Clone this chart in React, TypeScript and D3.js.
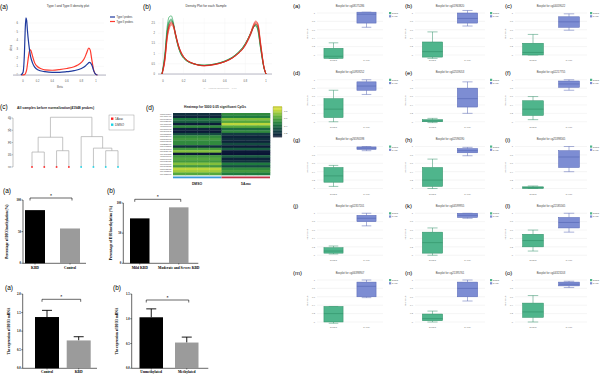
import React from "react";
import * as d3 from "d3";

const SANS = "Liberation Sans, Arial, sans-serif";
const SERIF = "Liberation Serif, Times New Roman, serif";

// ===== Top (a): Type I / Type II density =====
const typeIBeta = [-0.03, 0, 0.02, 0.03, 0.04, 0.05, 0.06, 0.08, 0.1, 0.13, 0.16, 0.2, 0.3, 0.4, 0.5, 0.6, 0.7, 0.8, 0.85, 0.88, 0.91, 0.93, 0.95, 0.97, 1.0, 1.02];
const typeIDensity = [0, 0.3, 2.6, 5.2, 6.6, 6.3, 5.2, 3.5, 2.3, 1.4, 0.9, 0.6, 0.38, 0.3, 0.3, 0.38, 0.5, 0.75, 1.0, 1.25, 1.45, 1.35, 1.0, 0.45, 0.05, 0];
const typeIIBeta = [-0.02, 0.02, 0.05, 0.07, 0.09, 0.1, 0.11, 0.13, 0.16, 0.2, 0.25, 0.3, 0.4, 0.5, 0.6, 0.7, 0.75, 0.8, 0.84, 0.87, 0.9, 0.92, 0.94, 0.97, 1.0, 1.02];
const typeIIDensity = [0, 0.05, 0.6, 1.8, 2.8, 2.9, 2.8, 2.2, 1.4, 0.95, 0.72, 0.6, 0.55, 0.62, 0.75, 0.95, 1.15, 1.45, 1.9, 2.5, 3.1, 2.9, 1.9, 0.5, 0.05, 0];
const densATicksX = [0, 0.2, 0.4, 0.6, 0.8, 1];
const densATicksY = [0, 1, 2, 3, 4, 5, 6];

// ===== Top (b): density for each sample =====
const sampleBeta = [-0.01, 0.02, 0.04, 0.06, 0.08, 0.1, 0.12, 0.15, 0.2, 0.3, 0.4, 0.5, 0.6, 0.7, 0.8, 0.85, 0.88, 0.9, 0.92, 0.95, 0.98, 1.0];
const sampleNames = ["DMSO_1", "DMSO_2", "DMSO_3", "DMSO_4", "5Azac_1", "5Azac_2", "5Azac_3", "5Azac_4"];
const sampleColors = ["#1b9e4b", "#2ca25f", "#41ab5d", "#238b45", "#e31a1c", "#fc4e2a", "#ef3b2c", "#cb181d"];
const sampleDensity = [
  [0.0, 1.1, 2.3, 2.8, 2.85, 2.55, 2.0, 1.35, 0.8, 0.5, 0.42, 0.48, 0.62, 0.9, 1.45, 1.95, 2.3, 2.45, 2.3, 1.3, 0.35, 0.0],
  [0.0, 1.0, 2.1, 2.6, 2.7, 2.45, 1.95, 1.3, 0.78, 0.49, 0.42, 0.48, 0.63, 0.92, 1.5, 2.0, 2.35, 2.4, 2.2, 1.2, 0.3, 0.0],
  [0.0, 0.9, 2.0, 2.5, 2.6, 2.4, 1.9, 1.3, 0.77, 0.49, 0.43, 0.49, 0.63, 0.92, 1.48, 1.98, 2.3, 2.35, 2.15, 1.15, 0.3, 0.0],
  [0.0, 0.95, 2.05, 2.55, 2.65, 2.45, 1.95, 1.32, 0.79, 0.5, 0.43, 0.49, 0.64, 0.93, 1.5, 2.0, 2.32, 2.38, 2.2, 1.2, 0.3, 0.0],
  [0.0, 0.8, 1.8, 2.35, 2.5, 2.4, 2.0, 1.4, 0.85, 0.5, 0.4, 0.46, 0.6, 0.88, 1.45, 2.0, 2.4, 2.55, 2.45, 1.4, 0.35, 0.0],
  [0.0, 0.75, 1.75, 2.3, 2.45, 2.35, 1.95, 1.38, 0.84, 0.5, 0.4, 0.46, 0.6, 0.88, 1.42, 1.95, 2.35, 2.5, 2.4, 1.35, 0.33, 0.0],
  [0.0, 0.7, 1.7, 2.2, 2.4, 2.3, 1.92, 1.36, 0.83, 0.5, 0.41, 0.47, 0.61, 0.9, 1.45, 2.0, 2.45, 2.6, 2.5, 1.45, 0.36, 0.0],
  [0.0, 0.85, 1.9, 2.4, 2.55, 2.42, 2.02, 1.42, 0.86, 0.51, 0.41, 0.47, 0.6, 0.87, 1.4, 1.9, 2.3, 2.45, 2.35, 1.3, 0.32, 0.0],
];
const densBTicksX = [0, 0.2, 0.4, 0.6, 0.8, 1];
const densBTicksY = [0, 0.5, 1, 1.5, 2, 2.5];

// ===== (c) dendrogram =====
const dendLeaves = ["s1", "s2", "s3", "s4", "s5", "s6", "s7", "s8"];
const dendLeafGroup = ["5Azac", "5Azac", "5Azac", "5Azac", "DMSO", "DMSO", "DMSO", "DMSO"];
const dendMergeId = ["n1", "n2", "n3", "n4", "n5", "n6", "n7"];
const dendMergeLeft = ["s1", "s3", "s7", "s6", "n1", "s5", "n5"];
const dendMergeRight = ["s2", "s4", "s8", "n3", "n2", "n4", "n6"];
const dendMergeHeight = [12.2, 13.3, 13.3, 15.4, 24.3, 24.8, 40.6];
const dendTicks = [0, 10, 20, 30, 40];

// ===== (d) heatmap =====
const heatRowIds = ["cg26071204", "cg14809401", "cg09902663", "cg16185051", "cg04836959", "cg11363069", "cg16831765", "cg13067848", "cg06208521", "cg21720034", "cg26515376", "cg20172798", "cg22585996", "cg24108265", "cg12039803", "cg13655478", "cg04516258", "cg11763079", "cg26176339", "cg00720329", "cg19763109", "cg07962325", "cg23458921", "cg04232569", "cg14823901"];
const heatSamples = ["D1", "D2", "D3", "D4", "A1", "A2", "A3", "A4"];
const heatSampleGroup = ["DMSO", "DMSO", "DMSO", "DMSO", "5Azac", "5Azac", "5Azac", "5Azac"];
const heatDmso = [0.2, 0.15, 0.45, 0.35, 0.12, 0.5, 0.15, 0.1, 0.3, 0.5, 0.55, 0.5, 0.5, 0.2, 0.55, 0.7, 0.1, 0.55, 0.6, 0.55, 0.7, 0.55, 0.8, 0.75, 0.6];
const heatAzac = [0.5, 0.45, 0.7, 0.6, 0.8, 0.6, 0.4, 0.5, 0.25, 0.15, 0.2, 0.15, 0.3, 0.12, 0.35, 0.1, 0.08, 0.35, 0.15, 0.2, 0.45, 0.3, 0.5, 0.55, 0.45];
const heatLegendTicks = [0.2, 0.4, 0.6, 0.8];

// ===== Middle bar charts: methylation percentage =====
const methACats = ["KBD", "Control"];
const methAValues = [84, 55];
const methBCats = ["Mild KBD", "Moderate and Severe KBD"];
const methBValues = [74.5, 92.8];
const methTicks = [0, 50, 100];

// ===== Bottom bar charts: DIO3 mRNA expression =====
const exprACats = ["Control", "KBD"];
const exprAMeans = [1.38, 0.75];
const exprAErr = [0.18, 0.1];
const exprATicks = [0, 0.5, 1.0, 1.5, 2.0];
const exprBCats = ["Unmethylated", "Methylated"];
const exprBMeans = [1.03, 0.52];
const exprBErr = [0.17, 0.11];
const exprBTicks = [0, 0.5, 1.0, 1.5];

// ===== Right: 15 boxplots =====
const boxLetters = ["a", "b", "c", "d", "e", "f", "g", "h", "i", "j", "k", "l", "m", "n", "o"];
const boxIds = ["cg08175286", "cg01963820", "cg04059022", "cg10959252", "cg02559053", "cg02217755", "cg26590598", "cg02596590", "cg25398565", "cg02357201", "cg04599955", "cg22185565", "cg06398907", "cg21395761", "cg04323203"];
const boxGroups = ["DMSO", "5Azac"];
const boxTicks = [0, 0.2, 0.4, 0.6, 0.8, 1];
// [min, q1, median, q3, max]
const boxDmso = [
  [-0.08, -0.08, -0.03, 0.16, 0.29],
  [-0.08, -0.05, 0.08, 0.31, 0.55],
  [0.0, 0.0, 0.06, 0.28, 0.49],
  [0.0, 0.1, 0.3, 0.55, 0.75],
  [-0.02, 0.0, 0.02, 0.05, 0.08],
  [0.05, 0.15, 0.3, 0.5, 0.6],
  [0.05, 0.15, 0.3, 0.5, 0.55],
  [0.0, 0.05, 0.2, 0.5, 0.7],
  [0.0, 0.0, 0.02, 0.04, 0.06],
  [0.03, 0.05, 0.1, 0.18, 0.22],
  [0.0, 0.05, 0.3, 0.55, 0.65],
  [0.1, 0.2, 0.35, 0.5, 0.6],
  [-0.03, 0.0, 0.2, 0.37, 0.37],
  [0.0, 0.03, 0.08, 0.19, 0.26],
  [0.0, 0.11, 0.24, 0.45, 0.63],
];
const boxAzac = [
  [0.66, 0.76, 0.97, 1.02, 1.02],
  [0.69, 0.76, 0.87, 1.0, 1.06],
  [0.59, 0.66, 0.79, 0.91, 0.98],
  [0.65, 0.75, 0.85, 0.95, 1.0],
  [0.2, 0.35, 0.55, 0.8, 0.95],
  [0.75, 0.82, 0.9, 0.97, 1.0],
  [0.9, 0.93, 0.96, 0.99, 1.0],
  [0.78, 0.85, 0.9, 0.95, 0.98],
  [0.4, 0.5, 0.75, 0.9, 1.0],
  [0.7, 0.8, 0.88, 0.95, 1.0],
  [0.88, 0.9, 0.95, 1.0, 1.0],
  [0.55, 0.65, 0.78, 0.9, 1.0],
  [0.58, 0.6, 0.85, 0.95, 1.0],
  [0.5, 0.6, 0.8, 0.95, 1.0],
  [0.82, 0.86, 0.9, 0.95, 0.97],
];
const boxFill = ["#4fb58c", "#7d8dd3"];
const boxStroke = ["#2f8f66", "#5465b3"];

function fmt(v: number) {
  return d3.format("~g")(v);
}

function DensityA() {
  const x = d3.scaleLinear([0, 1], [23, 96]);
  const y = d3.scaleLinear([0, 6], [75, 23]);
  const line = d3.line<[number, number]>().x((d) => x(d[0])).y((d) => y(d[1])).curve(d3.curveMonotoneX);
  const ptsI = typeIBeta.map((b, i) => [b, typeIDensity[i]] as [number, number]);
  const ptsII = typeIIBeta.map((b, i) => [b, typeIIDensity[i]] as [number, number]);
  return (
    <g fontFamily={SANS}>
      <text x={0} y={9} fontSize={6.5}>(a)</text>
      <text x={68} y={7} fontSize={3.2} textAnchor="middle" fill="#333">Type I and Type II density plot</text>
      {densATicksY.map((t) => (
        <g key={t}>
          <line x1={14} x2={104} y1={y(t)} y2={y(t)} stroke="#f0f0f0" strokeWidth={0.4} />
          <text x={18} y={y(t) + 1} fontSize={2.6} textAnchor="end" fill="#555">{t}</text>
        </g>
      ))}
      {densATicksX.map((t) => (
        <text key={t} x={x(t)} y={82} fontSize={2.6} textAnchor="middle" fill="#555">{fmt(t)}</text>
      ))}
      <rect x={13} y={74.3} width={93} height={1.6} fill="#cfcfd8" />
      <text x={60} y={88} fontSize={2.8} textAnchor="middle" fill="#555">Beta</text>
      <text transform={`translate(12,48) rotate(-90)`} fontSize={2.8} textAnchor="middle" fill="#555">dens</text>
      <path d={line(ptsII) || ""} fill="none" stroke="#ff3b2f" strokeWidth={1.2} />
      <path d={line(ptsI) || ""} fill="none" stroke="#1f3a9e" strokeWidth={1.2} />
      <line x1={110} x2={115} y1={17} y2={17} stroke="#1f3a9e" strokeWidth={1.2} />
      <text x={116.5} y={18} fontSize={2.6} fill="#333">Type I probes</text>
      <line x1={110} x2={115} y1={21.5} y2={21.5} stroke="#ff3b2f" strokeWidth={1.2} />
      <text x={116.5} y={22.5} fontSize={2.6} fill="#333">Type II probes</text>
    </g>
  );
}

function DensityB() {
  const x = d3.scaleLinear([0, 1], [163, 266]);
  const y = d3.scaleLinear([0, 2.5], [74, 23]);
  const line = d3.line<[number, number]>().x((d) => x(d[0])).y((d) => y(d[1])).curve(d3.curveMonotoneX);
  return (
    <g fontFamily={SANS}>
      <text x={143} y={9} fontSize={6.5}>(b)</text>
      <text x={206} y={6.5} fontSize={3.2} textAnchor="middle" fill="#333">Density Plot for each Sample</text>
      {densBTicksY.map((t) => (
        <g key={t}>
          <line x1={158} x2={272} y1={y(t)} y2={y(t)} stroke="#eeeeee" strokeWidth={0.4} />
          <text x={155} y={y(t) + 1} fontSize={2.6} textAnchor="end" fill="#555">{fmt(t)}</text>
        </g>
      ))}
      {densBTicksX.map((t) => (
        <g key={t}>
          <line x1={x(t)} x2={x(t)} y1={18} y2={74} stroke="#f2f2f2" strokeWidth={0.4} />
          <text x={x(t)} y={81.5} fontSize={2.6} textAnchor="middle" fill="#555">{fmt(t)}</text>
        </g>
      ))}
      <line x1={x(0)} x2={x(0)} y1={18} y2={74} stroke="#d8d8d8" strokeWidth={0.6} />
      <rect x={158} y={73.3} width={114} height={1.5} fill="#cfcfd8" />
      {sampleDensity.map((vals, i) => (
        <path key={sampleNames[i]} d={line(sampleBeta.map((b, j) => [b, vals[j]] as [number, number])) || ""} fill="none" stroke={sampleColors[i]} strokeWidth={0.7} opacity={0.9} />
      ))}
      <text x={220} y={89} fontSize={2.5} textAnchor="middle" fill="#bbb">N = 485512   Bandwidth = 0.01</text>
    </g>
  );
}

function Dendrogram() {
  const x = d3.scalePoint(dendLeaves, [32, 118]);
  const y = d3.scaleLinear([0, 40], [167, 118]);
  const pos: Record<string, { x: number; h: number }> = {};
  dendLeaves.forEach((l) => (pos[l] = { x: x(l) as number, h: 0 }));
  const segs: { x1: number; y1: number; x2: number; y2: number }[] = [];
  dendMergeId.forEach((id, i) => {
    const a = pos[dendMergeLeft[i]];
    const b = pos[dendMergeRight[i]];
    const h = dendMergeHeight[i];
    segs.push({ x1: a.x, y1: y(a.h), x2: a.x, y2: y(h) });
    segs.push({ x1: b.x, y1: y(b.h), x2: b.x, y2: y(h) });
    segs.push({ x1: a.x, y1: y(h), x2: b.x, y2: y(h) });
    pos[id] = { x: (a.x + b.x) / 2, h };
  });
  return (
    <g fontFamily={SANS}>
      <text x={0} y={109} fontSize={6.5}>(c)</text>
      <text x={17} y={109} fontSize={3.4} fontWeight="bold" fill="#222">All samples before normalization(41948 probes)</text>
      <line x1={13} x2={13} y1={y(0)} y2={y(40)} stroke="#666" strokeWidth={0.4} />
      {dendTicks.map((t) => (
        <g key={t}>
          <line x1={11.5} x2={13} y1={y(t)} y2={y(t)} stroke="#666" strokeWidth={0.4} />
          <text transform={`translate(10.5,${y(t)}) rotate(-90)`} fontSize={2.8} textAnchor="middle" fill="#333">{t}</text>
        </g>
      ))}
      {segs.map((s, i) => (
        <line key={i} x1={s.x1} y1={s.y1} x2={s.x2} y2={s.y2} stroke="#aaaaaa" strokeWidth={0.7} />
      ))}
      {dendLeaves.map((l, i) => (
        <rect key={l} x={(x(l) as number) - 0.8} y={y(0) - 0.8} width={1.6} height={1.6} fill={dendLeafGroup[i] === "5Azac" ? "#ff2020" : "#19d3e6"} />
      ))}
      <rect x={109} y={115} width={25} height={15} fill="white" stroke="#888" strokeWidth={0.4} />
      <rect x={111} y={117.5} width={2.4} height={2.4} fill="#ff2020" />
      <text x={115} y={119.8} fontSize={3} fill="#333">5Azac</text>
      <rect x={111} y={123.5} width={2.4} height={2.4} fill="#19d3e6" />
      <text x={115} y={125.8} fontSize={3} fill="#333">DMSO</text>
    </g>
  );
}

function Heatmap() {
  const x = d3.scaleBand(heatSamples, [173, 270]);
  const y = d3.scaleBand(heatRowIds, [113, 175]);
  const color = d3.scaleLinear<string>().domain([0.08, 0.25, 0.45, 0.65, 0.85]).range(["#0a1436", "#123c42", "#1f7b3f", "#66b53c", "#d9e13c"]).clamp(true);
  const legY = d3.scaleLinear([0.1, 0.9], [137, 107]);
  const legStops = d3.range(0.1, 0.9001, 0.02);
  return (
    <g fontFamily={SANS}>
      <text x={146} y={110} fontSize={6.5}>(d)</text>
      <text x={215} y={108} fontSize={3.3} fontWeight="bold" textAnchor="middle" fill="#222">Heatmap for 5000 0.05 significant CpGs</text>
      {heatRowIds.map((r, ri) => (
        <g key={r}>
          <text x={171.5} y={(y(r) as number) + y.bandwidth() * 0.8} fontSize={2.1} textAnchor="end" fill="#555">{r}</text>
          {heatSamples.map((s, ci) => (
            <rect key={s} x={x(s)} y={y(r)} width={x.bandwidth() + 0.3} height={y.bandwidth() + 0.3} fill={color(heatSampleGroup[ci] === "DMSO" ? heatDmso[ri] : heatAzac[ri])} />
          ))}
        </g>
      ))}
      <rect x={173} y={176.5} width={48.5} height={1.8} fill="#3a9ad9" />
      <rect x={221.5} y={176.5} width={48.5} height={1.8} fill="#c2344a" />
      <text x={197} y={185} fontSize={3.4} fontWeight="bold" textAnchor="middle" fill="#222">DMSO</text>
      <text x={246} y={185} fontSize={3.4} fontWeight="bold" textAnchor="middle" fill="#222">5Azac</text>
      {legStops.map((v) => (
        <rect key={v} x={273} y={legY(v + 0.02)} width={9} height={legY(v) - legY(v + 0.02) + 0.3} fill={color(v)} />
      ))}
      <rect x={273} y={107} width={9} height={30} fill="none" stroke="#777" strokeWidth={0.3} />
      {heatLegendTicks.map((t) => (
        <text key={t} x={284} y={legY(t) + 1} fontSize={2.4} fill="#444">{t}</text>
      ))}
    </g>
  );
}

function BarPanel(props: {
  label: string; lx: number; ly: number; axisX: number; axisEnd: number; y0: number; y1: number;
  domain: [number, number]; ticks: number[]; tickFmt: (v: number) => string;
  cats: string[]; values: number[]; errs?: number[]; barX: number[]; barW: number;
  bracketY: number; yLabel: string; catY: number;
}) {
  const p = props;
  const y = d3.scaleLinear(p.domain, [p.y0, p.y1]);
  const colors = ["#000000", "#9b9b9b"];
  const cx = p.barX.map((b) => b + p.barW / 2);
  return (
    <g fontFamily={SERIF}>
      <text x={p.lx} y={p.ly} fontSize={6.5} fontFamily={SANS}>({p.label})</text>
      <line x1={p.axisX} x2={p.axisX} y1={y(p.domain[1])} y2={y(0)} stroke="#000" strokeWidth={0.6} />
      <line x1={p.axisX} x2={p.axisEnd} y1={y(0)} y2={y(0)} stroke="#000" strokeWidth={0.6} />
      {p.ticks.map((t) => (
        <g key={t}>
          <line x1={p.axisX - 1.5} x2={p.axisX} y1={y(t)} y2={y(t)} stroke="#000" strokeWidth={0.5} />
          <text x={p.axisX - 2} y={y(t) + 1.1} fontSize={3} textAnchor="end" fontWeight="bold">{p.tickFmt(t)}</text>
        </g>
      ))}
      {p.cats.map((c, i) => (
        <g key={c}>
          {p.errs && (
            <g>
              <line x1={cx[i]} x2={cx[i]} y1={y(p.values[i])} y2={y(p.values[i] + p.errs[i])} stroke="#000" strokeWidth={0.9} />
              <line x1={cx[i] - 5} x2={cx[i] + 5} y1={y(p.values[i] + p.errs[i])} y2={y(p.values[i] + p.errs[i])} stroke="#000" strokeWidth={0.9} />
            </g>
          )}
          <rect x={p.barX[i]} y={y(p.values[i])} width={p.barW} height={y(0) - y(p.values[i])} fill={colors[i]} />
          <line x1={cx[i]} x2={cx[i]} y1={y(0)} y2={y(0) + 1.2} stroke="#000" strokeWidth={0.5} />
          <text x={cx[i]} y={p.catY} fontSize={3.6} fontWeight="bold" textAnchor="middle">{c}</text>
        </g>
      ))}
      <path d={`M${cx[0] - 5},${p.bracketY + 2.5}V${p.bracketY}H${cx[1] + 2}V${p.bracketY + 2.5}`} fill="none" stroke="#000" strokeWidth={0.6} />
      <text x={(cx[0] - 5 + cx[1] + 2) / 2} y={p.bracketY - 1.5} fontSize={4} textAnchor="middle" fontWeight="bold">*</text>
      <text transform={`translate(${p.lx + 4.5},${(p.y0 + y(p.domain[1])) / 2}) rotate(-90)`} fontSize={3.5} fontWeight="bold" textAnchor="middle">{p.yLabel}</text>
    </g>
  );
}

function BoxPanel({ i }: { i: number }) {
  const col = i % 3;
  const row = Math.floor(i / 3);
  const oy = row * 66.75;
  const gx = [[317, 383], [415, 485], [515, 587]][col];
  const labelX = [293, 405, 505][col];
  const legendX = [389, 490, 590][col];
  const y = d3.scaleLinear([boxTicks[0], boxTicks[boxTicks.length - 1]], [oy + 55, oy + 13]);
  const x = d3.scalePoint(boxGroups, gx).padding(0.5);
  const bw = (gx[1] - gx[0]) * 0.29;
  const stats = [boxDmso[i], boxAzac[i]];
  return (
    <g fontFamily={SANS}>
      <text x={labelX} y={oy + 8} fontSize={6}>({boxLetters[i]})</text>
      <text x={(gx[0] + gx[1]) / 2} y={oy + 6.5} fontSize={2.7} textAnchor="middle" fill="#444">Boxplot for {boxIds[i]}</text>
      {boxTicks.map((t) => (
        <g key={t}>
          <line x1={gx[0]} x2={gx[1]} y1={y(t)} y2={y(t)} stroke="#e6e6e6" strokeWidth={0.4} />
          <text x={gx[0] - 2} y={y(t) + 0.8} fontSize={2.2} textAnchor="end" fill="#777">{fmt(t)}</text>
        </g>
      ))}
      <text transform={`translate(${gx[0] - 9},${oy + 34}) rotate(-90)`} fontSize={2.3} textAnchor="middle" fill="#777">beta value</text>
      {boxGroups.map((g, k) => {
        const s = stats[k];
        const c = x(g) as number;
        return (
          <g key={g}>
            <line x1={c} x2={c} y1={y(s[0])} y2={y(s[1])} stroke={boxStroke[k]} strokeWidth={0.5} />
            <line x1={c} x2={c} y1={y(s[3])} y2={y(s[4])} stroke={boxStroke[k]} strokeWidth={0.5} />
            <line x1={c - bw / 4} x2={c + bw / 4} y1={y(s[0])} y2={y(s[0])} stroke={boxStroke[k]} strokeWidth={0.5} />
            <line x1={c - bw / 4} x2={c + bw / 4} y1={y(s[4])} y2={y(s[4])} stroke={boxStroke[k]} strokeWidth={0.5} />
            <rect x={c - bw / 2} y={y(s[3])} width={bw} height={Math.max(0.5, y(s[1]) - y(s[3]))} fill={boxFill[k]} stroke={boxStroke[k]} strokeWidth={0.5} />
            <line x1={c - bw / 2} x2={c + bw / 2} y1={y(s[2])} y2={y(s[2])} stroke={boxStroke[k]} strokeWidth={0.6} />
            <text x={c} y={oy + 61} fontSize={2.3} textAnchor="middle" fill="#777">{g}</text>
          </g>
        );
      })}
      {boxGroups.map((g, k) => (
        <g key={"l" + g}>
          <rect x={legendX} y={oy + 12 + k * 3.2} width={2.2} height={2.2} fill={boxFill[k]} />
          <text x={legendX + 3} y={oy + 14 + k * 3.2} fontSize={2} fill="#555">{g}</text>
        </g>
      ))}
    </g>
  );
}

export default function App() {
  return (
    <svg width={600} height={376} viewBox="0 0 600 376" style={{ position: "absolute", left: 0, top: 0, background: "#fff" }}>
      <rect width={600} height={376} fill="#fff" />
      <DensityA />
      <DensityB />
      <Dendrogram />
      <Heatmap />
      <BarPanel label="a" lx={3} ly={193} axisX={23} axisEnd={86} y0={263.3} y1={200} domain={[0, 100]} ticks={methTicks} tickFmt={(v) => String(v)}
        cats={methACats} values={methAValues} barX={[25, 60]} barW={20} bracketY={198} yLabel="Percentage of DIO3methylation (%)" catY={269} />
      <BarPanel label="b" lx={107} ly={193} axisX={123.3} axisEnd={198.3} y0={263.3} y1={203} domain={[0, 100]} ticks={methTicks} tickFmt={(v) => String(v)}
        cats={methBCats} values={methBValues} barX={[130, 169]} barW={19.5} bracketY={199.3} yLabel="Percentage of DIO3methylation (%)" catY={269} />
      <BarPanel label="a" lx={5} ly={290} axisX={22.7} axisEnd={97} y0={368.3} y1={294} domain={[0, 2]} ticks={exprATicks} tickFmt={(v) => v.toFixed(1)}
        cats={exprACats} values={exprAMeans} errs={exprAErr} barX={[35, 66.7]} barW={24} bracketY={299.3} yLabel="The expression of DIO3 mRNA" catY={373} />
      <BarPanel label="b" lx={113} ly={290} axisX={131.7} axisEnd={208.3} y0={368.3} y1={294} domain={[0, 1.5]} ticks={exprBTicks} tickFmt={(v) => v.toFixed(1)}
        cats={exprBCats} values={exprBMeans} errs={exprBErr} barX={[139.5, 175]} barW={23.5} bracketY={300} yLabel="The expression of DIO3 mRNA" catY={373} />
      {boxLetters.map((l, i) => (
        <BoxPanel key={l} i={i} />
      ))}
    </svg>
  );
}
